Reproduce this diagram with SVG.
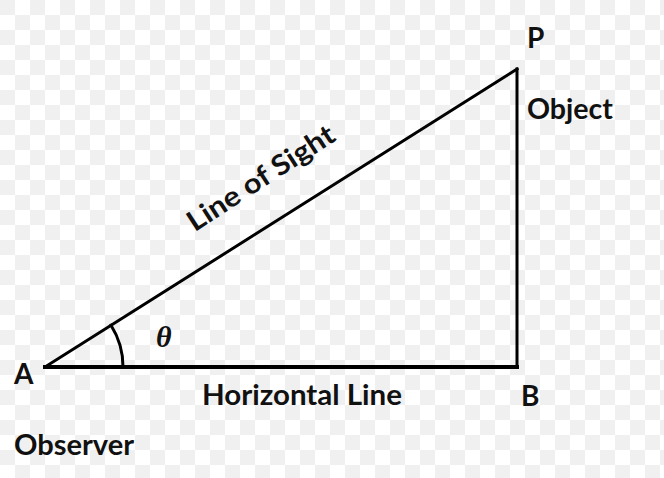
<svg xmlns="http://www.w3.org/2000/svg" width="664" height="478" viewBox="0 0 664 478">
<defs>
<pattern id="chk" width="30" height="30" patternUnits="userSpaceOnUse">
<rect width="30" height="30" fill="#ffffff"/>
<rect width="15" height="15" fill="#f0f0f0"/>
<rect x="15" y="15" width="15" height="15" fill="#f0f0f0"/>
</pattern>
<style>
.lbl{font-family:Lato,"Liberation Sans",sans-serif;font-weight:bold;font-size:28px;fill:#111}
.ln{stroke:#000;fill:none;stroke-linecap:square}
</style>
</defs>
<rect width="664" height="478" fill="url(#chk)"/>
<g id="connectors">
<line class="ln" x1="45" y1="367" x2="517" y2="367" stroke-width="4"/>
<line class="ln" x1="517" y1="69" x2="517" y2="367" stroke-width="3"/>
<line class="ln" x1="45" y1="367" x2="517" y2="69" stroke-width="3"/>
<path class="ln" d="M123,367 A78,78 0 0 0 111,325.3" stroke-width="3"/>
</g>
<g id="A"><text class="lbl" x="14" y="384">A</text></g>
<g id="B"><text class="lbl" x="521" y="406">B</text></g>
<g id="P"><text class="lbl" x="527" y="48">P</text></g>
<g id="object"><text class="lbl" x="527" y="119" textLength="86" lengthAdjust="spacingAndGlyphs">Object</text></g>
<g id="observer"><text class="lbl" x="14" y="455" textLength="120" lengthAdjust="spacingAndGlyphs">Observer</text></g>
<g id="horizontal"><text class="lbl" x="202" y="405" textLength="200" lengthAdjust="spacingAndGlyphs">Horizontal Line</text></g>
<g id="sight"><text class="lbl" x="-85" y="0" textLength="170" lengthAdjust="spacingAndGlyphs" transform="translate(266,186) rotate(-33)">Line of Sight</text></g>
<g id="theta"><text x="156" y="347" style="font-family:'Liberation Serif',serif;font-style:italic;font-weight:bold;font-size:30px;fill:#111">θ</text></g>
</svg>
